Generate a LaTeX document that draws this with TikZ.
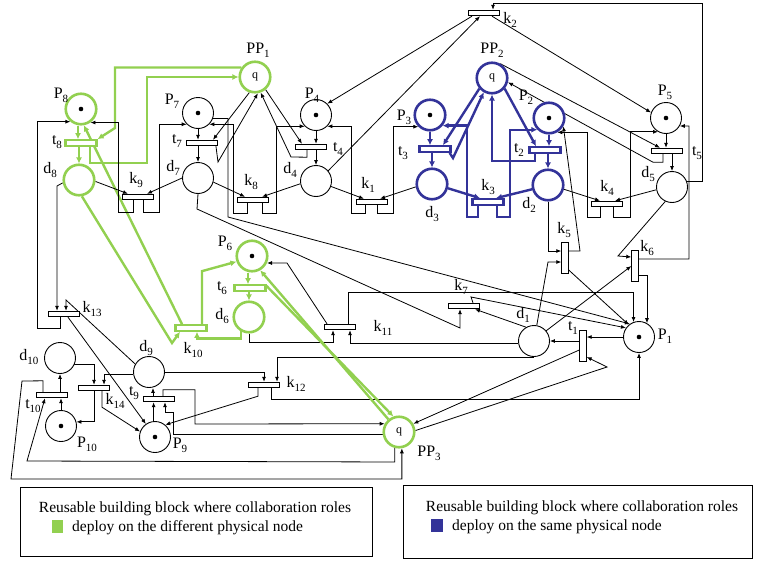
\documentclass[tikz,border=0pt]{standalone}
\usepackage{fontspec}
\setmainfont{Liberation Serif}
\usetikzlibrary{arrows.meta,calc,backgrounds}
\definecolor{grn}{RGB}{146,208,80}
\definecolor{blu}{RGB}{51,51,153}
\newcommand\sbs[2]{#1\raisebox{-4pt}{\fontsize{11}{11}\selectfont #2}}
\begin{document}
\begin{tikzpicture}[x=1pt,y=-1pt,
 every node/.style={inner sep=0pt},
 pl/.style={circle,draw,line width=0.9pt,minimum size=31pt,fill=white},
 gpl/.style={pl,draw=grn,line width=2.6pt,minimum size=30.5pt},
 bpl/.style={pl,draw=blu,line width=2.6pt,minimum size=30.5pt},
 tr/.style={rectangle,draw,line width=0.9pt,minimum width=31pt,minimum height=5.5pt,fill=white},
 gtr/.style={tr,draw=grn,line width=2.2pt},
 btr/.style={tr,draw=blu,line width=2.2pt},
 vtr/.style={tr,minimum width=6.5pt,minimum height=31pt},
 ar/.style={line width=0.8pt,-{Latex[length=5pt,width=4pt]}},
 ln/.style={line width=0.8pt},
 gar/.style={line width=2.4pt,draw=grn,-{Latex[length=6pt,width=6pt]}},
 blar/.style={line width=2.4pt,draw=blu,-{Latex[length=6pt,width=6pt]}},
 lab/.style={font=\fontsize{16}{16}\selectfont},
 lg/.style={font=\fontsize{15.5}{18}\selectfont},
 qq/.style={font=\fontsize{12}{12}\selectfont}
]
\useasboundingbox (0,0) rectangle (757,562);
% ---------- nodes ----------
\node[gpl] (P8) at (81,109) {};
\node[gtr] (t8) at (81,143) {};
\node[gpl] (d8) at (79,180) {};
\node[gpl,qq] (PP1) at (255,77) {q};
\node[pl] (P7) at (198,113) {};
\node[tr] (t7) at (202,143) {};
\node[pl] (d7) at (198,178) {};
\node[pl] (P4) at (316,115) {};
\node[tr] (t4) at (311,147) {};
\node[pl] (d4) at (316,181) {};
\node[bpl] (P3) at (430,115) {};
\node[btr] (t3) at (435,149) {};
\node[bpl] (d3) at (432,184) {};
\node[bpl,qq] (PP2) at (492,78) {q};
\node[bpl] (P2) at (549,118) {};
\node[btr] (t2) at (545,150) {};
\node[bpl] (d2) at (548,185) {};
\node[pl] (P5) at (666,118) {};
\node[tr] (t5) at (667,151) {};
\node[pl] (d5) at (672,187) {};
\node[tr] (k9) at (138,197) {};
\node[tr] (k8) at (253,200) {};
\node[tr] (k1) at (372,202) {};
\node[btr] (k3) at (488,202) {};
\node[tr] (k4) at (607,204) {};
\node[tr] (k2) at (484,13) {};
\node[vtr] (k5) at (565,258) {};
\node[vtr] (k6) at (635,266) {};
\node[gpl] (P6) at (252,256) {};
\node[gtr] (t6) at (250,288) {};
\node[gpl] (d6) at (249,317) {};
\node[gtr] (k10) at (191,328) {};
\node[tr] (k11) at (340,327) {};
\node[tr] (k7) at (464,306) {};
\node[pl] (d1) at (534,341) {};
\node[vtr] (t1) at (583,346) {};
\node[pl] (P1) at (639,337) {};
\node[tr] (k13) at (64,314) {};
\node[pl] (d10) at (60,358) {};
\node[tr] (t10) at (52,395) {};
\node[pl] (P10) at (61,426) {};
\node[tr] (k14) at (94,388) {};
\node[pl] (d9) at (149,372) {};
\node[tr] (t9) at (159,399) {};
\node[pl] (P9) at (155,437) {};
\node[tr] (k12) at (264,385) {};
\node[gpl,qq] (PP3) at (399,432) {q};
\foreach \p in {P8,P7,P4,P3,P2,P5,P6,P1,P10,P9} \fill (\p) circle (2.3pt);
% ---------- labels ----------
\node[lab] at (61,95) {\sbs{P}{8}};
\node[lab] at (57,142) {\sbs{t}{8}};
\node[lab] at (50,170) {\sbs{d}{8}};
\node[lab] at (258,50) {\sbs{PP}{1}};
\node[lab] at (172,101) {\sbs{P}{7}};
\node[lab] at (177,141) {\sbs{t}{7}};
\node[lab] at (173,168) {\sbs{d}{7}};
\node[lab] at (136,180) {\sbs{k}{9}};
\node[lab] at (251,182) {\sbs{k}{8}};
\node[lab] at (312,95) {\sbs{P}{4}};
\node[lab] at (338,149) {\sbs{t}{4}};
\node[lab] at (290,170) {\sbs{d}{4}};
\node[lab] at (368,185) {\sbs{k}{1}};
\node[lab] at (404,117) {\sbs{P}{3}};
\node[lab] at (403,153) {\sbs{t}{3}};
\node[lab] at (432,214) {\sbs{d}{3}};
\node[lab] at (488,187) {\sbs{k}{3}};
\node[lab] at (492,50) {\sbs{PP}{2}};
\node[lab] at (526,97) {\sbs{P}{2}};
\node[lab] at (519,150) {\sbs{t}{2}};
\node[lab] at (529,205) {\sbs{d}{2}};
\node[lab] at (607,188) {\sbs{k}{4}};
\node[lab] at (665,92) {\sbs{P}{5}};
\node[lab] at (697,153) {\sbs{t}{5}};
\node[lab] at (648,174) {\sbs{d}{5}};
\node[lab] at (510,20) {\sbs{k}{2}};
\node[lab] at (564,230) {\sbs{k}{5}};
\node[lab] at (647,248) {\sbs{k}{6}};
\node[lab] at (461,287) {\sbs{k}{7}};
\node[lab] at (523,315) {\sbs{d}{1}};
\node[lab] at (573,328) {\sbs{t}{1}};
\node[lab] at (665,336) {\sbs{P}{1}};
\node[lab] at (383,328) {\sbs{k}{11}};
\node[lab] at (225,243) {\sbs{P}{6}};
\node[lab] at (222,288) {\sbs{t}{6}};
\node[lab] at (222,316) {\sbs{d}{6}};
\node[lab] at (193,350) {\sbs{k}{10}};
\node[lab] at (92,309) {\sbs{k}{13}};
\node[lab] at (29,357) {\sbs{d}{10}};
\node[lab] at (33,406) {\sbs{t}{10}};
\node[lab] at (87,444) {\sbs{P}{10}};
\node[lab] at (115,401) {\sbs{k}{14}};
\node[lab] at (146,348) {\sbs{d}{9}};
\node[lab] at (134,393) {\sbs{t}{9}};
\node[lab] at (180,445) {\sbs{P}{9}};
\node[lab] at (296,384) {\sbs{k}{12}};
\node[lab] at (429,453) {\sbs{PP}{3}};
% ---------- connectors ----------
\begin{scope}[on background layer]
% P8 / t8 / d8 (green)
\draw[gar] ([xshift=-3pt]P8.south) -- ([xshift=-3pt]t8.north);
\draw[gar] (t8.south -| d8) -- (d8.north);
\draw[gar] ([xshift=-9pt]k10.north) -- (P8.-80);
\draw[gar] (PP1.145) -| (115,128) -- (t8.north east);
\draw[gar] ([xshift=9pt]t8.south) |- (147,163) |- (PP1.west);
\draw[gar] (d8.-80) -- (172,343) -- ([xshift=-11pt]k10.south);
\draw[ar] (d8.-5) -- ([xshift=-10pt]k9.north);
\draw[ar] (d8.190) -- (57,186) -- ([xshift=-7pt]k13.north);
% P7 group
\draw[ar] (P7.south) -- (P7.south |- t7.north);
\draw[ar] (t7.south -| d7) -- (d7.north);
\draw[ar] (PP1.-110) -- ([xshift=11pt]t7.north);
\draw[ar] ([xshift=-2pt]t7.south east) -- (218,162) -- (PP1.-80);
\draw[ar] (PP1.-50) -- ([xshift=-9pt]t4.north);
\draw[ar] ([xshift=-4pt]t4.south) -- ++(0,7) -- (291,157) -- (PP1.-70);
\draw[ar] ([xshift=-5pt]k9.south) |- (118,212) |- (P8.-55);
\draw[ar] ([xshift=5pt]k9.south) |- (159,212) |- (P7.-135);
\draw[ar] (d7.west) -- ([xshift=9pt]k9.north);
\draw[ar] (d7.-15) -- ([xshift=-8pt]k8.north);
\draw[ar] (d4.190) -- ([xshift=9pt]k8.north);
\draw[ar] ([xshift=-6pt]k8.south) |- (233,213) |- (P7.-45);
\draw[ar] ([xshift=9pt]k8.south) |- (276,213) |- (P4.-135);
\draw[ar] (d7.south) -- (197,209) -- (460,328) -- ([xshift=-4pt]k7.south);
\draw[ar] (P7.-20) -| (228,217) -- (P1.125);
% P4 group
\draw[ar] (P4.south) -- (P4.south |- t4.north);
\draw[ar] (t4.south -| d4) -- (d4.north);
\draw[ar] ([xshift=-12pt]k2.south) -- (P4.45);
\draw[ar] (d4.40) -- ([xshift=-4pt]k2.south);
\draw[ar] (d4.-20) -- ([xshift=-8pt]k1.north);
\draw[ar] (d3.190) -- ([xshift=8pt]k1.north);
\draw[ar] ([xshift=-7pt]k1.south) |- (351,213) |- (P4.-45);
\draw[ar] ([xshift=5pt]k1.south) |- (393,213) |- (P3.-135);
% P3 group (blue)
\draw[blar] (P3.south) -- (P3.south |- t3.north);
\draw[blar] (t3.south -| d3) -- (d3.north);
\draw[blar] (PP2.-140) -- ([xshift=8pt]t3.north);
\draw[blar] ([xshift=-2pt]t3.south east) -- (453,158) -- (PP2.-120);
\draw[blar] (d3.-15) -- ([xshift=-8pt]k3.north);
\draw[blar] (d2.195) -- ([xshift=8pt]k3.north);
\draw[blar] ([xshift=-10pt]k3.south) |- (467,217) |- (P3.-40);
\draw[blar] ([xshift=9pt]k3.south) |- (510,217) |- (P2.-135);
% P2 group (blue)
\draw[blar] (P2.south) -- (P2.south |- t2.north);
\draw[blar] (t2.south -| d2) -- (d2.north);
\draw[blar] (PP2.-40) -- ([xshift=-9pt]t2.north);
\draw[blar] ([xshift=-10pt]t2.south) -- ++(0,7) -| (PP2.south);
\draw[ar] ([yshift=7pt]k5.east) -- (580,251) -- (P2.-30);
\draw[ar] ([xshift=-7pt]k4.south) |- (587,217) |- (P2.-60);
\draw[ar] ([xshift=6pt]k4.south) |- (630,217) |- (P5.-120);
\draw[ar] (d2.-15) -- ([xshift=-7pt]k4.north);
\draw[ar] (d5.190) -- ([xshift=8pt]k4.north);
% P5 group
\draw[ar] (P5.south) -- (P5.south |- t5.north);
\draw[ar] (t5.south -| d5) -- (d5.north);
\draw[ar] ([xshift=8pt]k2.south) -- (P5.160);
\draw[ar] (PP2.60) -- ([xshift=-7pt]t5.north);
\draw[ar] ([xshift=-4pt]t5.south) -- ++(0,8) -- ++(-10,0) -- (PP2.-15);
\draw[ar] (d5.20) -| (702,3) -| ([xshift=9pt]k2.north);
\draw[ar] ([yshift=7pt]k6.east) -| (689,126) -- (P5.-30);
\draw[ar] (d5.-115) -- (618,256) -- ([yshift=9pt]k6.west);
\draw[ar] (d1.40) -- (k6.west);
\draw[ar] ([yshift=-9pt]k6.east) -| (P1.60);
% k5
\draw[ar] (d2.south) |- ([yshift=7pt]k5.west);
\draw[ar] (d1.80) -- (548,262) -- ([yshift=-4pt]k5.west);
\draw[ar] ([yshift=-12pt]k5.east) -- (P1.130);
% k7
\draw[ar] (d1.120) -- ([xshift=11pt]k7.south);
\draw[ar] ([xshift=9pt]k7.north) -- (471,297) -- (P1.145);
% k11
\draw[ar] (d6.south) -- ++(0,9) -| ([xshift=-7pt]k11.south);
\draw[ar] (d1.190) -| ([xshift=10pt]k11.south);
\draw[ar] ([xshift=-13pt]k11.north) -- (287,263) -- (P6.-25);
\draw[ar] ([xshift=8pt]k11.north) -- ++(0,-31) -| (P1.110);
% k12
\draw[ar] (d9.east) -| (k12.north);
\draw[ar] (d1.south) -| ([xshift=13pt]k12.north);
\draw[ar] ([xshift=-6pt]k12.south) -- ++(0,8) -- (P9.50);
\draw[ar] ([xshift=7pt]k12.south) -- ++(0,11) -| (P1.south);
% k13
\draw[ar] (d9.150) -- (66,300) -- ([xshift=2pt]k13.north);
\draw[ar] ([xshift=-4pt]k13.south) |- (37,328) |- (P8.-130);
\draw[ar] ([xshift=4pt]k13.south) -- (P9.125);
% k14
\draw[ar] (d10.-25) -| (k14.north);
\draw[ar] (d9.190) -| ([xshift=10pt]k14.north);
\draw[ar] (k14.south) |- (P10.15);
\draw[ar] ([xshift=8pt]k14.south) -- ++(0,16) -- (P9.160);
% t10
\draw[ar] (P10.north) -- (P10.north |- t10.south);
\draw[ar] (t10.north -| d10) -- (d10.south);
\draw[ar] (PP3.-105) -- ++(0,14) -- (27,461) -- ([xshift=-7pt]t10.south);
\draw[ar] ([xshift=-9pt]t10.north) -- ++(0,-11) -- (22,381) -- (11,479) -| (PP3.-80);
% t9
\draw[ar] (P9.95) -- (P9.95 |- t9.south);
\draw[ar] ([xshift=-6pt]t9.north) -- ([xshift=-6pt]t9.north |- d9.south);
\draw[ar] ([xshift=4pt]t9.north) -- ++(0,-6) -| (195,424) -- (PP3.150);
\draw[ar] (PP3.190) -| (173,412) -| ([xshift=6pt]t9.south);
% t1 / P1
\draw[ar] ([yshift=-4pt]t1.west) -- (PP3.30);
\draw[ar] (PP3.5) -- (607,367) -- ([yshift=-11pt]t1.east);
\draw[ar] (P1.west) -- (P1.west -| t1.east);
\draw[ar] (t1.west |- d1.east) -- (d1.east);
% P6 group (green)
\draw[gar] ([xshift=-4pt]P6.south) -- ([xshift=-4pt]P6.south |- t6.north);
\draw[gar] (t6.south -| d6) -- (d6.north);
\draw[gar] (PP3.130) -- (P6.-60);
\draw[gar] ([yshift=2pt]t6.east) -- (PP3.110);
\draw[gar] ([xshift=11pt]k10.north) -- ++(0,-53) -- (P6.200);
\draw[gar] (d6.-120) -- ++(0,7) -| ([xshift=6pt]k10.south);
\end{scope}
% ---------- legend ----------
\node[draw,ln,minimum width=352pt,minimum height=69pt,anchor=north west] (L1) at (20,487) {};
\node[lg] at (195,509) {Reusable building block where collaboration roles};
\fill[grn] (52,520) rectangle (63,533);
\node[lg,anchor=west] at (72,528) {deploy on the different physical node};
\node[draw,ln,minimum width=349pt,minimum height=73pt,anchor=north west] (L2) at (403,485) {};
\node[lg] at (582,508) {Reusable building block where collaboration roles};
\fill[blu] (431,519) rectangle (443,532);
\node[lg,anchor=west] at (452,527) {deploy on the same physical node};
\end{tikzpicture}
\end{document}
